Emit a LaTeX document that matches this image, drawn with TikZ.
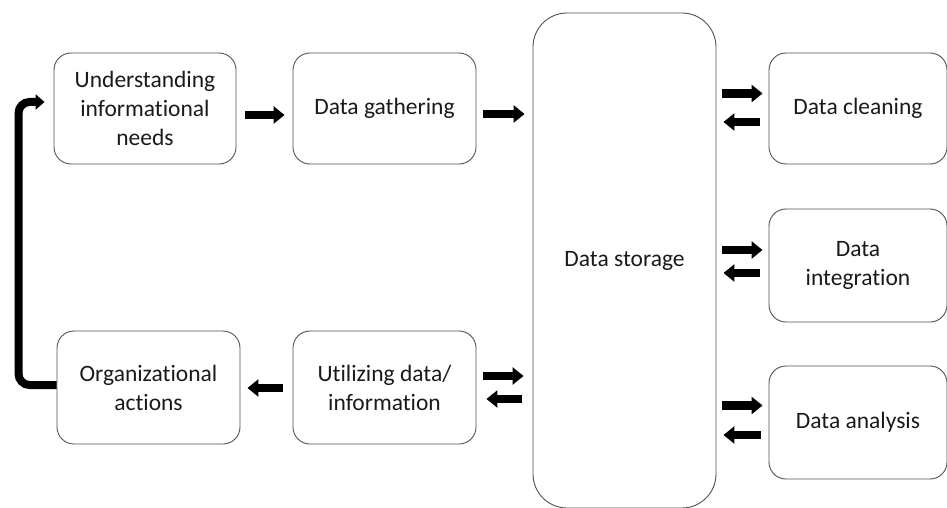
\documentclass[tikz,border=0pt]{standalone}
\usepackage{fontspec}
\setmainfont{Carlito}[Ligatures={NoCommon,NoRequired},RawFeature={-liga;-clig;-rlig;-dlig}]
\usetikzlibrary{arrows.meta}
\definecolor{edge}{HTML}{505050}
\definecolor{txt}{HTML}{1A1A1A}
\newcommand{\tI}{t\kern0pt i}
\begin{document}
\begin{tikzpicture}[x=1pt,y=1pt,
  box/.style={draw=edge, line width=0.9pt, rounded corners=17pt, align=center,
    text=txt, font=\fontsize{23.5}{29}\selectfont, inner sep=0pt},
  blk/.style={line width=8.5pt, -{Triangle[length=11pt,width=17pt]}},
  fb/.style={line width=8pt, rounded corners=11pt, line cap=butt,
    -{Triangle[length=9pt,width=15pt]}}]
\useasboundingbox (0,0) rectangle (947,-508);
\node[box, minimum width=182pt, minimum height=111pt] (und) at (145,-108.5) {Understanding\\informa\tI onal\\needs};
\node[box, minimum width=183pt, minimum height=111pt] (gat) at (384.5,-108.5) {Data gathering};
\node[box, minimum width=183pt, minimum height=495pt, rounded corners=34pt] (sto) at (624.5,-260.5) {Data storage};
\node[box, minimum width=178pt, minimum height=111pt] (cle) at (858,-108.5) {Data cleaning};
\node[box, minimum width=178pt, minimum height=113pt] (int) at (858,-265.5) {Data\\integra\tI on};
\node[box, minimum width=178pt, minimum height=113pt] (ana) at (858,-422.5) {Data analysis};
\node[box, minimum width=183pt, minimum height=113pt] (org) at (148.5,-387.5) {Organiza\tI onal\\ac\tI ons};
\node[box, minimum width=183pt, minimum height=113pt] (uti) at (384.5,-387.5) {Utilizing data/\\informa\tI on};
% forward arrows
\draw[blk] ([xshift=9pt,yshift=-6.5pt]und.east) -- ([xshift=-8pt,yshift=-6.5pt]gat.west);
\draw[blk] ([xshift=7pt,yshift=-5.5pt]gat.east) -- ([xshift=-8pt,yshift=-5.5pt]gat.east -| sto.west);
% storage <-> cleaning
\draw[blk] ([xshift=6pt,yshift=15pt]sto.east |- cle.west) -- ([xshift=-6pt,yshift=15pt]cle.west);
\draw[blk] ([xshift=-9pt,yshift=-13.5pt]cle.west) -- ([xshift=7pt,yshift=-13.5pt]sto.east |- cle.west);
% storage <-> integration
\draw[blk] ([xshift=6pt,yshift=15.5pt]sto.east |- int.west) -- ([xshift=-6pt,yshift=15.5pt]int.west);
\draw[blk] ([xshift=-9pt,yshift=-7.5pt]int.west) -- ([xshift=7pt,yshift=-7.5pt]sto.east |- int.west);
% storage <-> analysis
\draw[blk] ([xshift=6pt,yshift=17pt]sto.east |- ana.west) -- ([xshift=-6pt,yshift=17pt]ana.west);
\draw[blk] ([xshift=-8pt,yshift=-12.5pt]ana.west) -- ([xshift=7pt,yshift=-12.5pt]sto.east |- ana.west);
% utilizing <-> storage
\draw[blk] ([xshift=7pt,yshift=11.5pt]uti.east) -- ([xshift=-9pt,yshift=11.5pt]uti.east -| sto.west);
\draw[blk] ([xshift=-11pt,yshift=-11.5pt]uti.east -| sto.west) -- ([xshift=10pt,yshift=-11.5pt]uti.east);
% utilizing -> organizational
\draw[blk] ([xshift=-10pt,yshift=-0.5pt]uti.west) -- ([xshift=7pt,yshift=-0.5pt]org.east);
% feedback loop
\draw[fb] ([yshift=2.5pt]org.west) -- ++(-38,0) |- ([xshift=-9pt,yshift=6.5pt]und.west);
\end{tikzpicture}
\end{document}
